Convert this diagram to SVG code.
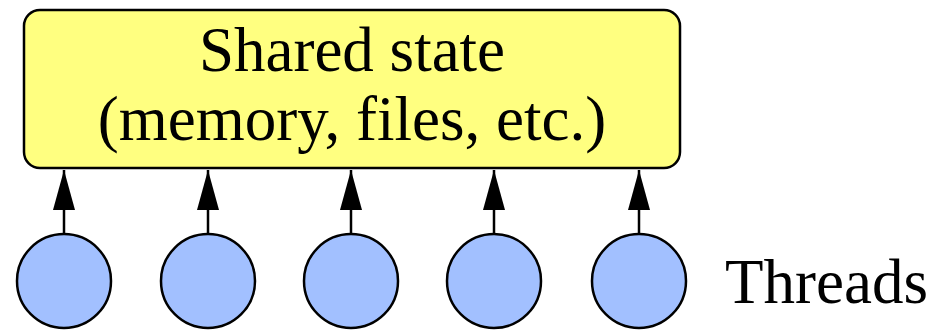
<svg xmlns="http://www.w3.org/2000/svg" width="930" height="330" viewBox="0 0 930 330">
<style>
.box{fill:#ffff80;stroke:#000;stroke-width:2.5}
.th{fill:#a2c0ff;stroke:#000;stroke-width:2.5}
.lbl{font-family:"Liberation Serif","Times New Roman",serif;font-size:63px;fill:#000}
.conn{stroke:#000;stroke-width:2.5;fill:none}
</style>
<defs>
<marker id="ah" markerUnits="userSpaceOnUse" viewBox="0 0 40 22" refX="40" refY="11" markerWidth="40" markerHeight="22" orient="auto">
<path d="M0,0 L40,11 L0,22 Z" fill="#000"/>
</marker>
</defs>
<g id="shared-state">
<rect class="box" x="24" y="10" width="656" height="158" rx="16" ry="16"/>
<text class="lbl" x="352" y="71" text-anchor="middle">Shared state</text>
<text class="lbl" x="352" y="140" text-anchor="middle">(memory, files, etc.)</text>
</g>
<g id="thread1"><circle class="th" cx="64" cy="281" r="47"/></g>
<g id="thread2"><circle class="th" cx="208" cy="281" r="47"/></g>
<g id="thread3"><circle class="th" cx="351" cy="281" r="47"/></g>
<g id="thread4"><circle class="th" cx="494" cy="281" r="47"/></g>
<g id="thread5"><circle class="th" cx="639" cy="281" r="47"/></g>
<g id="threads-label"><text class="lbl" x="725" y="303">Threads</text></g>
<g id="connectors">
<line class="conn" x1="64" y1="234" x2="64" y2="170" marker-end="url(#ah)"/>
<line class="conn" x1="208" y1="234" x2="208" y2="170" marker-end="url(#ah)"/>
<line class="conn" x1="351" y1="234" x2="351" y2="170" marker-end="url(#ah)"/>
<line class="conn" x1="494" y1="234" x2="494" y2="170" marker-end="url(#ah)"/>
<line class="conn" x1="639" y1="234" x2="639" y2="170" marker-end="url(#ah)"/>
</g>
</svg>
